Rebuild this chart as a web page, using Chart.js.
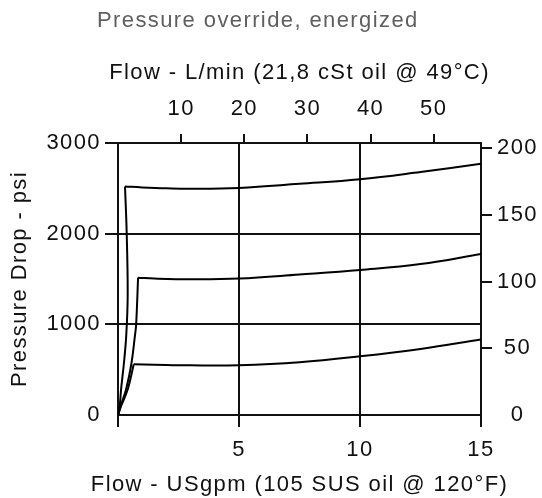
<!DOCTYPE html>
<html>
<head>
<meta charset="utf-8">
<title>Pressure override, energized</title>
<script src="https://cdn.jsdelivr.net/npm/chart.js@4/dist/chart.umd.min.js"></script>
<style>
  html, body { margin: 0; padding: 0; background: #fff; }
  canvas { display: block; }
</style>
</head>
<body>
<canvas id="overrideChart" width="542" height="498"></canvas>
<script>
// flow in USgpm, pressure drop in psi
// each setting = steep rise from zero + the regulated (flat) part
var rise2500Gpm = [0, 0.07, 0.13, 0.24, 0.34, 0.40, 0.36, 0.29];
var rise2500Psi = [0, 100, 290, 560, 875, 1315, 2000, 2520];
var flat2500Gpm = [0.29, 1, 2, 3, 5, 7.5, 10, 12.5, 15];
var flat2500Psi = [2520, 2510, 2500, 2495, 2505, 2550, 2600, 2680, 2770];

var rise1500Gpm = [0, 0.11, 0.34, 0.55, 0.70, 0.75, 0.83];
var rise1500Psi = [0, 100, 290, 560, 875, 1000, 1515];
var flat1500Gpm = [0.83, 1.5, 3, 5, 7.5, 10, 12.5, 15];
var flat1500Psi = [1515, 1505, 1497, 1505, 1550, 1600, 1665, 1775];

var rise560Gpm = [0, 0.13, 0.41, 0.65];
var rise560Psi = [0, 100, 290, 560];
var flat560Gpm = [0.65, 1.5, 3, 5, 7.5, 10, 12.5, 15];
var flat560Psi = [560, 555, 548, 550, 583, 648, 729, 834];

// axis ticks
var gpmTicks = [0, 5, 10, 15];
var psiTicks = [0, 1000, 2000, 3000];
var lpmTicks = [10, 20, 30, 40, 50];
var barTicks = [0, 50, 100, 150, 200];

var headingText = 'Pressure override, energized';
var gpmTitle = 'Flow - USgpm (105 SUS oil @ 120°F)';
var lpmTitle = 'Flow - L/min (21,8 cSt oil @ 49°C)';
var psiTitle = 'Pressure Drop - psi';

var INK = '#111';
var FONT = 'Liberation Sans';
var TRACKING = '1.4px';
Chart.defaults.font.family = FONT;
Chart.defaults.font.size = 22;
Chart.defaults.color = INK;

function toPoints(xs, ys) {
    return xs.map(function (x, i) { return { x: x, y: ys[i] }; });
}

function curve(xs, ys) {
    return {
        data: toPoints(xs, ys),
        showLine: true,
        borderColor: '#000',
        borderWidth: 2,
        pointRadius: 0,
        fill: false,
        tension: 0.4
    };
}

function fixedTicks(values) {
    return function (axis) {
        axis.ticks = values.map(function (v) { return { value: v }; });
    };
}

function plainLabel(v) {
    return String(v);
}

// no tick mark at zero on the vertical axes
function hideZero(ctx) {
    return ctx.tick && ctx.tick.value === 0 ? 'rgba(0,0,0,0)' : INK;
}

// spaced-out lettering for every label; the heading and the two flow
// titles are written here too (the scale title would squeeze them to
// the plot width)
var lettering = {
    id: 'lettering',
    beforeUpdate: function (chart) { chart.ctx.letterSpacing = TRACKING; },
    beforeDraw: function (chart) { chart.ctx.letterSpacing = TRACKING; },
    afterDraw: function (chart) {
        var ctx = chart.ctx;
        var area = chart.chartArea;
        var mid = (area.left + area.right) / 2;
        ctx.save();
        ctx.font = '22px "' + FONT + '"';
        ctx.letterSpacing = TRACKING;
        ctx.textBaseline = 'alphabetic';

        ctx.fillStyle = '#5f5f5f';
        ctx.textAlign = 'left';
        ctx.fillText(headingText, 97, 27);

        ctx.fillStyle = INK;
        ctx.textAlign = 'center';
        ctx.fillText(lpmTitle, mid, 79);
        ctx.fillText(gpmTitle, mid, 491);
        ctx.restore();
    }
};

var edge = { display: true, color: INK, width: 2 };

var ctx = document.getElementById('overrideChart').getContext('2d');
var overrideChart = new Chart(ctx, {
    type: 'scatter',
    data: {
        datasets: [
            curve(rise2500Gpm, rise2500Psi),
            curve(flat2500Gpm, flat2500Psi),
            curve(rise1500Gpm, rise1500Psi),
            curve(flat1500Gpm, flat1500Psi),
            curve(rise560Gpm, rise560Psi),
            curve(flat560Gpm, flat560Psi)
        ]
    },
    options: {
        responsive: false,
        animation: false,
        events: [],
        layout: { padding: { top: 36, left: 0, right: 0, bottom: 0 } },
        plugins: {
            legend: { display: false },
            tooltip: { enabled: false }
        },
        scales: {
            x: {
                type: 'linear',
                position: 'bottom',
                min: 0,
                max: 15,
                afterBuildTicks: fixedTicks(gpmTicks),
                ticks: {
                    padding: 10,
                    maxRotation: 0,
                    callback: function (v) { return v === 0 ? '' : String(v); }
                },
                grid: { color: INK, lineWidth: 2, tickLength: 12 },
                border: edge,
                afterFit: function (axis) { axis.height = 83; }
            },
            x2: {
                type: 'linear',
                position: 'top',
                min: 0,
                max: 57.5,
                afterBuildTicks: fixedTicks(lpmTicks),
                ticks: { padding: 12, maxRotation: 0, callback: plainLabel },
                grid: { drawOnChartArea: false, color: INK, lineWidth: 2, tickLength: 9 },
                border: edge,
                afterFit: function (axis) { axis.height = 107; }
            },
            y: {
                type: 'linear',
                position: 'left',
                min: 0,
                max: 3000,
                afterBuildTicks: fixedTicks(psiTicks),
                ticks: { padding: 4, callback: plainLabel },
                grid: { color: hideZero, lineWidth: 2, tickLength: 13 },
                border: edge,
                title: {
                    display: true,
                    text: psiTitle,
                    padding: { top: 7, bottom: 0 }
                },
                afterFit: function (axis) { axis.width = 118; }
            },
            y2: {
                type: 'linear',
                position: 'right',
                min: 0,
                max: 204,
                afterBuildTicks: fixedTicks(barTicks),
                ticks: { padding: 5, crossAlign: 'center', callback: plainLabel },
                grid: { drawOnChartArea: false, color: hideZero, lineWidth: 2, tickLength: 11 },
                border: edge,
                afterFit: function (axis) { axis.width = 61; }
            }
        }
    },
    plugins: [lettering]
});
</script>
</body>
</html>
